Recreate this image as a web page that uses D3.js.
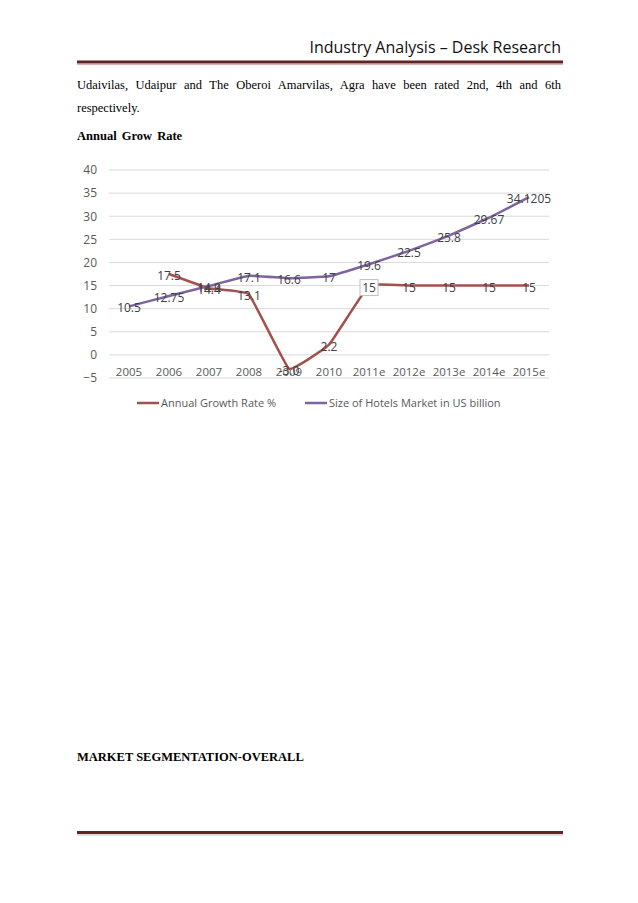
<!DOCTYPE html>
<html>
<head>
<meta charset="utf-8">
<script src="https://cdn.jsdelivr.net/npm/d3@7"></script>
<style>
  body { margin: 0; background: #fff; }
</style>
</head>
<body>
<div id="container"></div>
<script>
var years = ['2005', '2006', '2007', '2008', '2009', '2010', '2011e', '2012e', '2013e', '2014e', '2015e'];
var growthRate = [null, 17.5, 14.4, 13.1, -3.0, 2.2, 15, 15, 15, 15, 15];
var marketSize = [10.5, 12.75, 14.9, 17.1, 16.6, 17, 19.6, 22.5, 25.8, 29.67, 34.1205];
var yTicks = [-5, 0, 5, 10, 15, 20, 25, 30, 35, 40];
var seriesNames = ['Annual Growth Rate %', 'Size of Hotels Market in US billion'];
var seriesColors = ['#A5504C', '#7E649E'];

var width = 638, height = 903;
var chartFont = '"Open Sans", sans-serif';
var textGray = '#595959';

var main = d3.select('#container').append('svg')
    .attr('width', width)
    .attr('height', height);

main.append('rect').attr('width', width).attr('height', height).attr('fill', '#fff');

// page header
main.append('text')
    .attr('x', 561).attr('y', 53)
    .attr('text-anchor', 'end')
    .attr('font-family', chartFont)
    .attr('font-size', 16)
    .attr('fill', '#111')
    .text('Industry Analysis – Desk Research');

function rule(y) {
    main.append('line').attr('x1', 77).attr('x2', 563).attr('y1', y).attr('y2', y)
        .attr('stroke', '#622423').attr('stroke-width', 3);
    main.append('line').attr('x1', 77).attr('x2', 563).attr('y1', y + 2.5).attr('y2', y + 2.5)
        .attr('stroke', '#d8b4b3').attr('stroke-width', 1);
}
rule(62);
rule(832.5);

// body text
var bodyFont = '"Liberation Serif", "Times New Roman", serif';
var firstLine = main.append('text')
    .attr('x', 77).attr('y', 89)
    .attr('font-family', bodyFont).attr('font-size', 12.5).attr('fill', '#000')
    .text('Udaivilas, Udaipur and The Oberoi Amarvilas, Agra have been rated 2nd, 4th and 6th');
// justify the line by spreading the gaps between words
var natural = firstLine.node().getComputedTextLength();
var gaps = firstLine.text().split(' ').length - 1;
firstLine.attr('word-spacing', (484 - natural) / gaps);

main.append('text')
    .attr('x', 77).attr('y', 112)
    .attr('font-family', bodyFont).attr('font-size', 12.5).attr('fill', '#000')
    .text('respectively.');
main.append('text')
    .attr('x', 77).attr('y', 140)
    .attr('font-family', bodyFont).attr('font-size', 12.5).attr('font-weight', 'bold').attr('fill', '#000')
    .attr('word-spacing', 2)
    .text('Annual Grow Rate');
main.append('text')
    .attr('x', 77).attr('y', 761)
    .attr('font-family', bodyFont).attr('font-size', 12.5).attr('font-weight', 'bold').attr('fill', '#000')
    .text('MARKET SEGMENTATION-OVERALL');

// chart
var x = d3.scaleBand().domain(years).range([109, 549]);
var y = d3.scaleLinear().domain([-5, 40]).range([378, 170]);

var chart = main.append('g');

chart.append('g').selectAll('line')
    .data(yTicks)
    .enter().append('line')
    .attr('x1', 109).attr('x2', 549)
    .attr('y1', function (d) { return y(d); })
    .attr('y2', function (d) { return y(d); })
    .attr('stroke', '#d9d9d9').attr('stroke-width', 1);

var yAxis = chart.append('g')
    .attr('transform', 'translate(100,0)')
    .call(d3.axisLeft(y).tickValues(yTicks).tickSize(0).tickPadding(3));
yAxis.select('.domain').remove();
yAxis.selectAll('text').attr('font-family', chartFont).attr('font-size', 12).attr('fill', textGray);

var xAxis = chart.append('g')
    .attr('transform', 'translate(0,' + 368 + ')')
    .call(d3.axisBottom(x).tickSize(0).tickPadding(0));
xAxis.select('.domain').remove();
xAxis.selectAll('text').attr('font-family', chartFont).attr('font-size', 11.5).attr('fill', textGray);

var series = [growthRate, marketSize];

var line = d3.line()
    .defined(function (d) { return d.v !== null; })
    .x(function (d) { return x(d.k) + x.bandwidth() / 2; })
    .y(function (d) { return y(d.v); })
    .curve(d3.curveCardinal.tension(0.75));

series.forEach(function (values, si) {
    var pts = years.map(function (k, i) { return { k: k, v: values[i] }; });
    chart.append('path')
        .datum(pts)
        .attr('d', line)
        .attr('fill', 'none')
        .attr('stroke', seriesColors[si])
        .attr('stroke-width', 2.5)
        .attr('stroke-linejoin', 'round');
});

// data labels (centered on points)
series.forEach(function (values, si) {
    var pts = years.map(function (k, i) { return { k: k, v: values[i], i: i }; })
        .filter(function (d) { return d.v !== null; });
    var g = chart.append('g');
    pts.forEach(function (d) {
        var cx = x(d.k) + x.bandwidth() / 2;
        var cy = y(d.v);
        var label = d.v < 0 ? d.v.toFixed(1) : String(d.v);
        if (si === 0 && d.k === '2011e') {
            g.append('rect')
                .attr('x', cx - 9).attr('y', cy - 6)
                .attr('width', 18).attr('height', 16)
                .attr('fill', '#fff').attr('stroke', '#bfbfbf');
        }
        g.append('text')
            .attr('x', cx).attr('y', cy + 6)
            .attr('text-anchor', 'middle')
            .attr('font-family', chartFont).attr('font-size', 12)
            .attr('fill', '#404040')
            .text(label);
    });
});

// legend
var legendItems = [{ x: 137, name: seriesNames[0], color: seriesColors[0] },
                   { x: 305, name: seriesNames[1], color: seriesColors[1] }];
var legend = chart.append('g');
legendItems.forEach(function (d) {
    legend.append('line')
        .attr('x1', d.x).attr('x2', d.x + 22)
        .attr('y1', 403).attr('y2', 403)
        .attr('stroke', d.color).attr('stroke-width', 2.5);
    legend.append('text')
        .attr('x', d.x + 24).attr('y', 407)
        .attr('font-family', chartFont).attr('font-size', 11)
        .attr('fill', textGray)
        .text(d.name);
});
</script>
</body>
</html>
